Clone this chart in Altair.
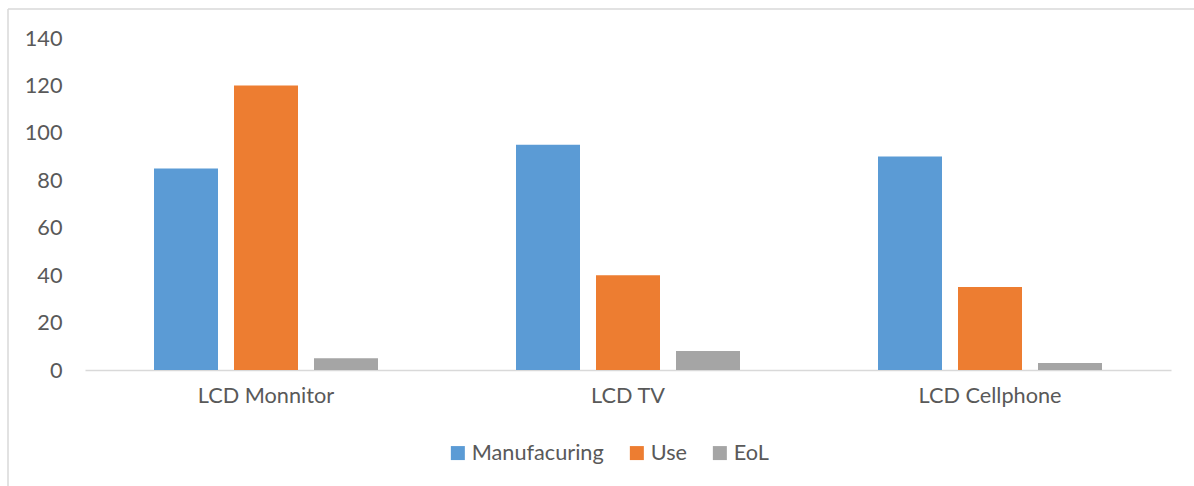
import altair as alt
import pandas as pd

categories = ["LCD Monnitor", "LCD TV", "LCD Cellphone"]
series = ["Manufacuring", "Use", "EoL"]
manufacturing = [85, 95, 90]
use = [120, 40, 35]
eol = [5, 8, 3]
colors = ["#5B9BD5", "#ED7D31", "#A5A5A5"]

rows = []
for i, c in enumerate(categories):
    for s, vals in zip(series, [manufacturing, use, eol]):
        rows.append({"category": c, "series": s, "value": vals[i]})
df = pd.DataFrame(rows)

FONT = "Lato"
TXT = "#595959"
FS = 21.7
W, H = 1086, 332

bars = alt.Chart(df).mark_bar().encode(
    x=alt.X("category:N", sort=categories, title=None,
            scale=alt.Scale(paddingInner=0, paddingOuter=0),
            axis=alt.Axis(labelAngle=0, ticks=False, domainColor="#D9D9D9", domainWidth=1.5,
                          labelPadding=15, labelFontSize=FS, labelFont=FONT, labelColor=TXT)),
    xOffset=alt.XOffset("series:N", sort=series,
                        scale=alt.Scale(paddingInner=0.2, paddingOuter=0.8625)),
    y=alt.Y("value:Q", title=None,
            scale=alt.Scale(domain=[0, 140], nice=False),
            axis=alt.Axis(values=list(range(0, 141, 20)), ticks=False, domain=False, grid=False,
                          labelPadding=23, labelFontSize=FS, labelFont=FONT, labelColor=TXT)),
    color=alt.Color("series:N", sort=series,
                    scale=alt.Scale(domain=series, range=colors),
                    legend=alt.Legend(title=None, orient="none", direction="horizontal",
                                      legendX=362, legendY=404, symbolType="square",
                                      symbolSize=196, symbolStrokeWidth=0, labelFontSize=FS,
                                      labelFont=FONT, labelColor=TXT, labelOffset=3,
                                      columnPadding=22)),
)

frame_left = alt.Chart(df.head(1)).mark_rule(color="#D9D9D9", strokeWidth=1.5).encode(
    x=alt.value(-77), y=alt.value(-29), y2=alt.value(460))
frame_top = alt.Chart(df.head(1)).mark_rule(color="#D9D9D9", strokeWidth=1.5).encode(
    x=alt.value(-77), x2=alt.value(1120), y=alt.value(-29))

chart = alt.layer(frame_left, frame_top, bars).properties(
    width=W, height=H,
    autosize=alt.AutoSizeParams(type="none"),
    padding={"left": 85, "top": 38, "right": 23, "bottom": 116},
    background="white",
).configure_view(stroke=None)

chart.save("out.html", embed_options={"renderer": "svg", "actions": False})
